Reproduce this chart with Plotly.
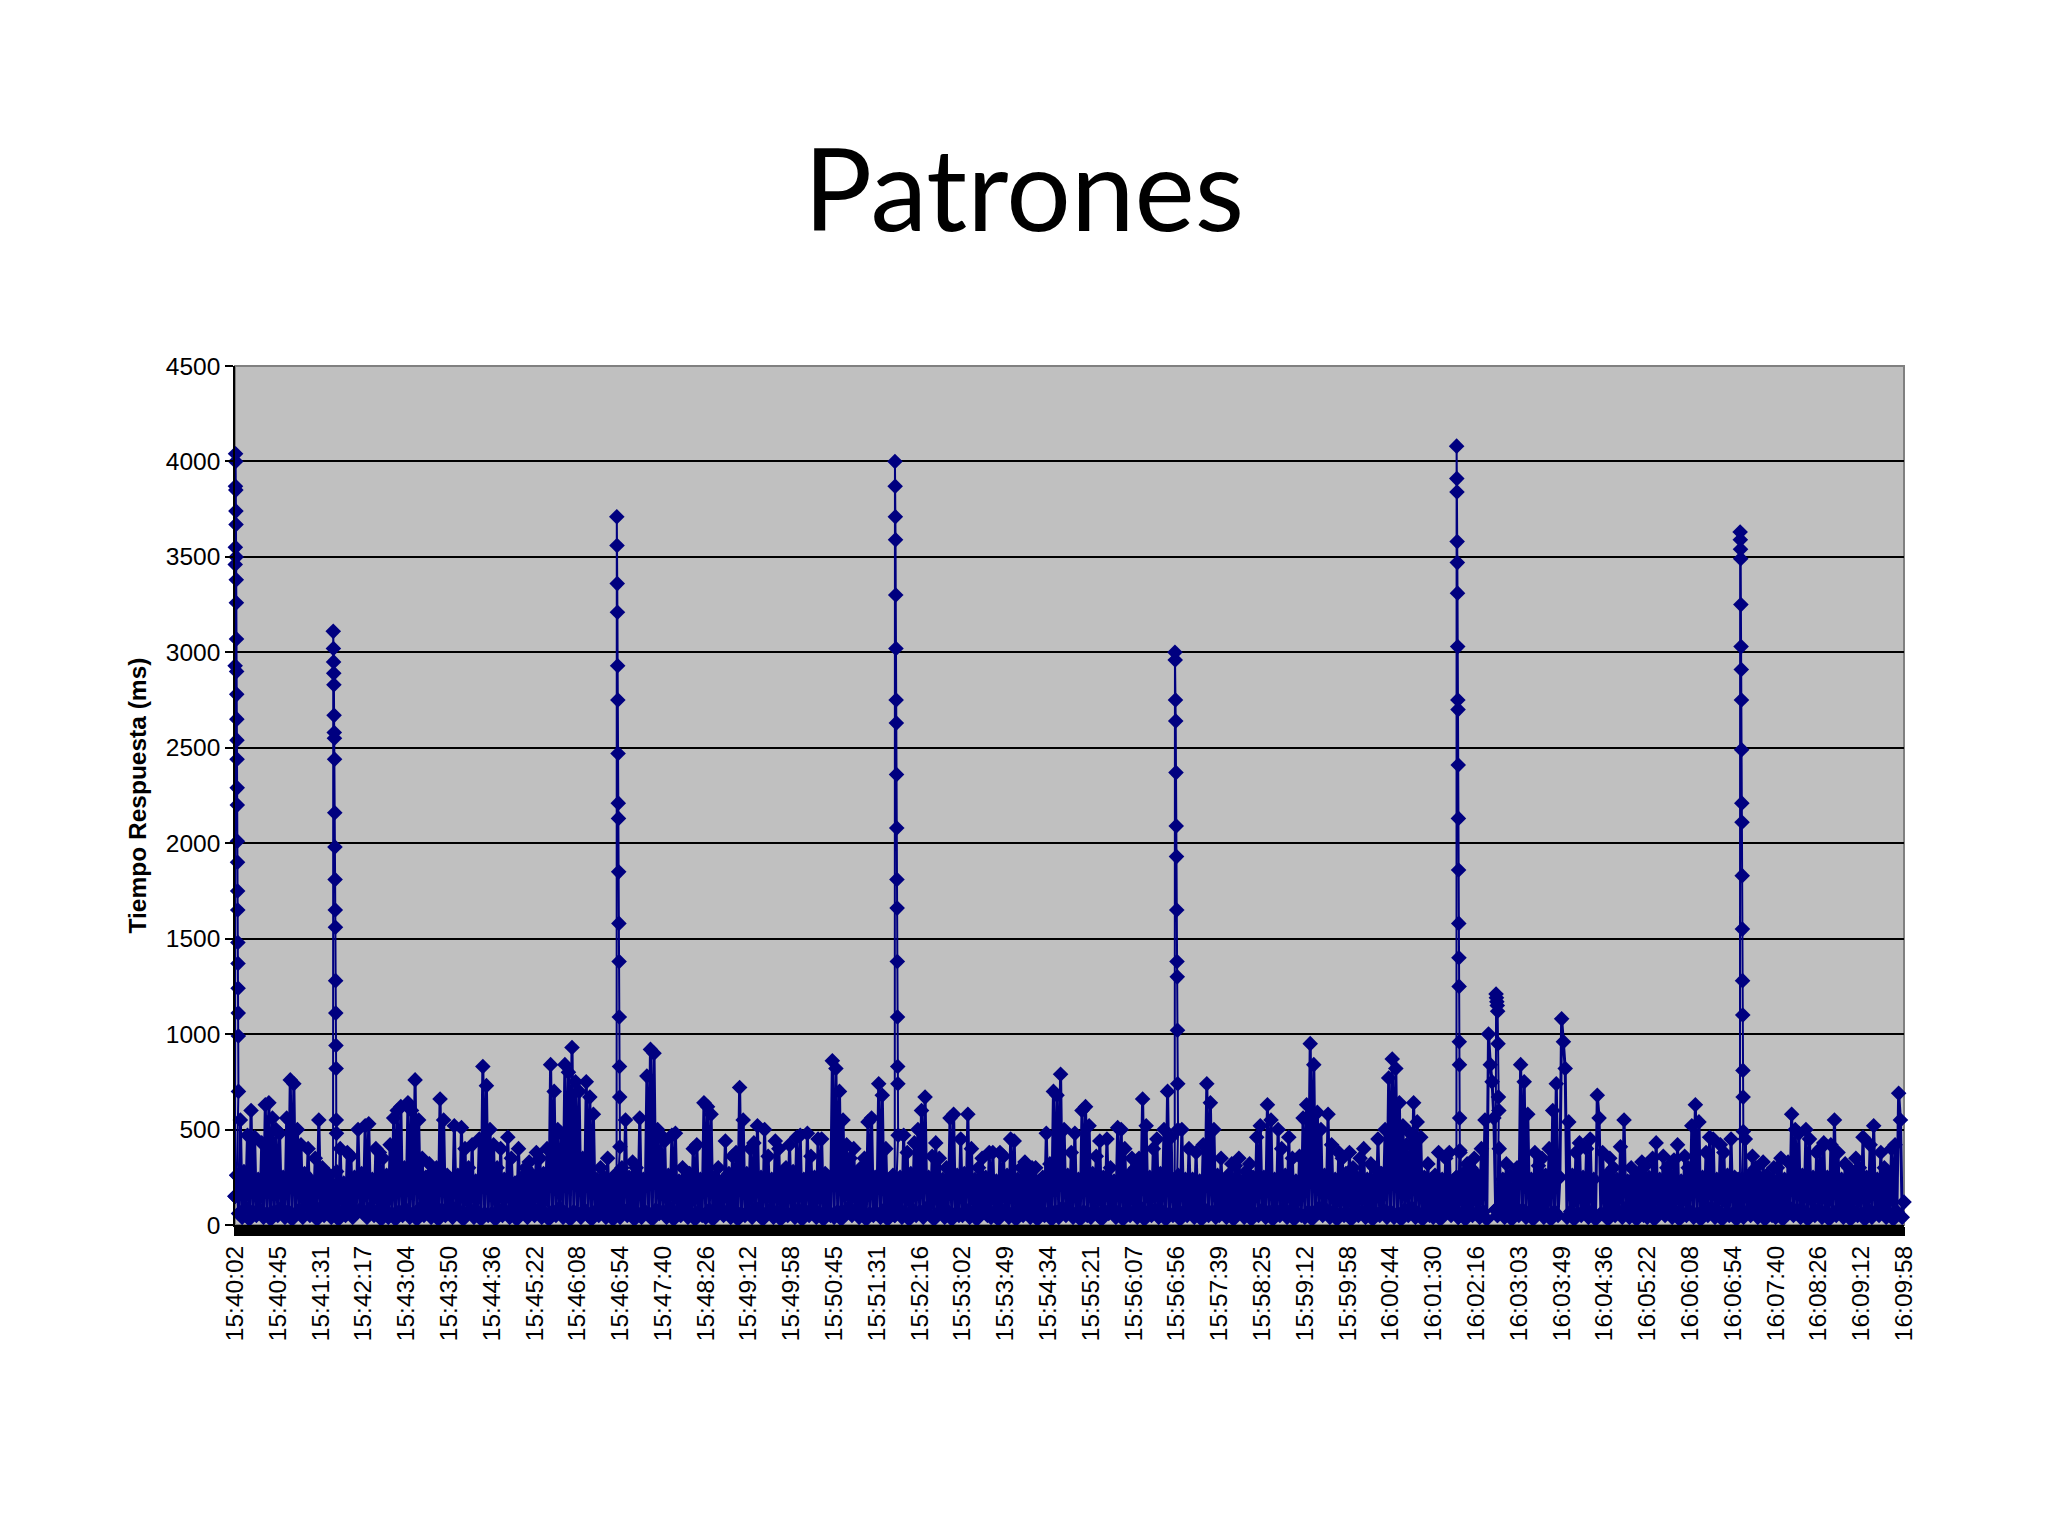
import plotly.graph_objects as go

# ---------------- data ----------------
tick_labels = [
    "15:40:02", "15:40:45", "15:41:31", "15:42:17", "15:43:04", "15:43:50", "15:44:36", "15:45:22",
    "15:46:08", "15:46:54", "15:47:40", "15:48:26", "15:49:12", "15:49:58", "15:50:45", "15:51:31",
    "15:52:16", "15:53:02", "15:53:49", "15:54:34", "15:55:21", "15:56:07", "15:56:56", "15:57:39",
    "15:58:25", "15:59:12", "15:59:58", "16:00:44", "16:01:30", "16:02:16", "16:03:03", "16:03:49",
    "16:04:36", "16:05:22", "16:06:08", "16:06:54", "16:07:40", "16:08:26", "16:09:12", "16:09:58",
]

# Response time (ms), background samples, one line per tick-label interval
response_ms = [
    150, 260, 60, 550, 40, 280, 90, 470, 30, 600, 70, 460, 50, 240, 80, 430, 40, 630, 60, 640, 30, 560, 70, 500,
    50, 480, 90, 250, 40, 560, 70, 760, 30, 740, 60, 500, 80, 420, 40, 270, 100, 400, 50, 230, 70, 350, 30, 550,
    90, 300, 50, 240, 80, 260, 40, 210, 60, 280, 30, 400, 70, 220, 50, 380, 90, 360, 40, 250, 60, 500, 80, 270,
    60, 520, 40, 530, 90, 240, 50, 400, 70, 380, 30, 350, 80, 260, 40, 420, 60, 560, 30, 600, 70, 620, 50, 300,
    80, 640, 40, 600, 60, 760, 30, 550, 90, 350, 50, 250, 70, 320, 40, 280, 60, 300, 30, 660, 80, 550, 50, 260,
    70, 240, 40, 520, 90, 260, 50, 510, 30, 400, 60, 300, 80, 420, 40, 230, 70, 450, 30, 830, 60, 730, 50, 500,
    60, 420, 30, 300, 80, 400, 50, 240, 70, 460, 40, 350, 90, 220, 30, 400, 60, 250, 80, 300, 40, 330, 70, 260,
    50, 380, 80, 350, 40, 270, 60, 400, 30, 840, 70, 700, 50, 500, 90, 480, 40, 840, 60, 800, 30, 930, 70, 750,
    60, 700, 40, 350, 80, 750, 50, 670, 30, 580, 70, 240, 50, 300, 90, 250, 40, 350, 60, 230, 30, 260, 70, 250,
    40, 300, 80, 550, 50, 250, 90, 330, 30, 300, 60, 560, 40, 240, 70, 780, 50, 920, 30, 900, 80, 500, 60, 470,
    70, 440, 40, 260, 90, 470, 30, 480, 60, 230, 50, 300, 80, 250, 40, 270, 60, 400, 30, 420, 70, 240, 50, 640,
    40, 620, 80, 580, 30, 250, 60, 300, 90, 230, 50, 440, 70, 270, 40, 360, 80, 380, 30, 720, 60, 550, 50, 270,
    70, 400, 40, 430, 90, 520, 50, 250, 30, 500, 60, 360, 80, 240, 40, 440, 70, 400, 30, 260, 60, 300, 50, 420,
    60, 280, 40, 460, 80, 470, 30, 240, 70, 480, 50, 360, 90, 250, 40, 450, 60, 450, 30, 270, 80, 250, 50, 860,
    40, 820, 70, 700, 30, 550, 60, 420, 90, 350, 50, 400, 80, 260, 40, 300, 70, 350, 30, 540, 60, 560, 50, 250,
    60, 740, 40, 680, 80, 400, 30, 240, 70, 260, 50, 230, 90, 250, 40, 470, 60, 380, 30, 270, 80, 430, 50, 500,
    70, 600, 40, 670, 90, 250, 50, 360, 30, 430, 60, 350, 80, 240, 40, 300, 70, 560, 30, 580, 60, 260, 50, 450,
    50, 270, 80, 580, 40, 400, 70, 240, 30, 300, 60, 350, 90, 250, 50, 380, 40, 380, 70, 230, 30, 380, 60, 360,
    80, 260, 40, 450, 60, 440, 30, 240, 90, 300, 50, 330, 70, 270, 40, 300, 60, 300, 30, 230, 80, 250, 50, 480,
    60, 320, 30, 700, 70, 680, 40, 790, 90, 500, 50, 260, 80, 380, 40, 480, 60, 240, 30, 600, 70, 620, 50, 520,
    40, 270, 80, 360, 50, 440, 30, 250, 70, 450, 60, 300, 90, 230, 40, 510, 60, 500, 30, 400, 80, 260, 50, 350,
    70, 300, 40, 350, 90, 660, 30, 520, 60, 250, 50, 400, 80, 450, 40, 270, 70, 500, 30, 700, 60, 460, 50, 240,
    60, 260, 30, 500, 70, 240, 50, 400, 90, 240, 40, 380, 60, 230, 30, 420, 80, 740, 50, 640, 70, 500, 40, 260,
    50, 350, 80, 220, 40, 260, 70, 320, 30, 310, 60, 350, 90, 230, 40, 280, 70, 320, 30, 250, 60, 460, 50, 520,
    80, 250, 40, 630, 70, 550, 30, 240, 60, 500, 50, 400, 90, 260, 40, 460, 70, 350, 30, 230, 60, 360, 50, 560,
    40, 630, 70, 950, 30, 840, 60, 590, 90, 500, 50, 260, 80, 580, 40, 420, 70, 240, 30, 380, 60, 350, 50, 270,
    60, 380, 30, 300, 80, 250, 50, 350, 70, 400, 40, 240, 90, 320, 30, 300, 60, 450, 50, 270, 80, 500, 40, 770,
    70, 870, 40, 820, 60, 640, 30, 520, 80, 420, 50, 480, 90, 640, 40, 540, 60, 460, 30, 250, 70, 320, 50, 240,
    40, 260, 80, 380, 30, 240, 60, 350, 90, 380, 50, 230, 70, 250, 40, 380, 60, 270, 30, 320, 80, 300, 50, 350,
    60, 260, 40, 400, 70, 550, 30, 1000, 840, 750, 560, 80, 50, 400, 90, 240, 40, 320, 70, 260, 30, 250, 60, 300,
    50, 840, 80, 750, 40, 580, 70, 240, 30, 380, 60, 310, 90, 350, 40, 260, 60, 400, 30, 600, 70, 740, 50, 250,
    1080, 960, 820, 40, 540, 70, 260, 30, 380, 60, 430, 50, 250, 80, 400, 40, 450, 70, 240, 30, 680, 560, 60, 380,
    60, 260, 30, 350, 80, 300, 50, 240, 70, 410, 40, 550, 90, 230, 40, 300, 60, 250, 30, 270, 80, 330, 50, 310,
    40, 250, 70, 350, 30, 430, 60, 240, 90, 360, 50, 300, 80, 260, 40, 340, 70, 420, 30, 230, 60, 360, 50, 300,
    70, 520, 40, 630, 60, 540, 30, 250, 80, 380, 50, 460, 90, 450, 40, 240, 70, 420, 30, 380, 60, 260, 50, 450,
    60, 250, 30, 240, 80, 230, 40, 450, 70, 260, 50, 360, 90, 300, 40, 250, 60, 330, 30, 260, 80, 240, 50, 300,
    40, 300, 70, 350, 30, 240, 60, 330, 90, 580, 50, 500, 80, 480, 40, 260, 70, 500, 30, 450, 60, 250, 50, 380,
    80, 400, 40, 430, 70, 250, 30, 420, 60, 550, 50, 380, 90, 240, 40, 320, 60, 300, 30, 260, 70, 350, 50, 300,
    60, 460, 30, 250, 80, 420, 40, 520, 70, 240, 50, 380, 90, 300, 40, 260, 60, 400, 30, 420, 70, 690, 550, 40,
    120,
]

# Bursts of very slow responses (consecutive samples), and the background sample they follow
spike_1540 = [2930, 3460, 3550, 3870, 4040, 4000, 3850, 3740, 3670, 3500, 3380, 3260, 3070, 2900, 2780,
              2650, 2540, 2440, 2290, 2200, 2010, 1900, 1750, 1650, 1480, 1370, 1240, 1110, 990, 700]
spike_1541 = [3110, 3020, 2950, 2890, 2830, 2670, 2580, 2550, 2440, 2160, 1980, 1810, 1650, 1560, 1280,
              1110, 940, 820, 550, 480]
spike_1546 = [3710, 3560, 3360, 3210, 2930, 2750, 2470, 2210, 2130, 1850, 1580, 1380, 1090, 830, 670, 410]
spike_1551 = [4000, 3870, 3710, 3590, 3300, 3020, 2750, 2630, 2360, 2080, 1810, 1660, 1380, 1090, 830, 740, 470]
spike_1556 = [3000, 2960, 2750, 2640, 2370, 2090, 1930, 1650, 1380, 1300, 1020, 740, 500]
spike_1601 = [4080, 3910, 3840, 3580, 3470, 3310, 3030, 2750, 2700, 2410, 2130, 1860, 1580, 1400, 1250,
              960, 840, 560, 390]
spike_1602 = [1210, 1190, 1170, 1150, 1120, 950, 670, 600]
spike_1606 = [3630, 3590, 3540, 3490, 3250, 3030, 2910, 2750, 2490, 2210, 2110, 1830, 1550, 1280, 1100,
              810, 670, 490]
spike_after_sample = [0, 55, 214, 370, 527, 685, 707, 844]
spike_bursts = [spike_1540, spike_1541, spike_1546, spike_1551, spike_1556, spike_1601, spike_1602, spike_1606]

# ---------------- build series ----------------
samples_per_tick = (len(response_ms) - 1) / (len(tick_labels) - 1)
base_x = [i / samples_per_tick for i in range(len(response_ms))]

# bursts: drawn as one series (with the neighbouring background samples), gaps between bursts
burst_x, burst_y = [], []
for i, b in zip(spike_after_sample, spike_bursts):
    n = len(b)
    burst_x.append(base_x[i])
    burst_y.append(response_ms[i])
    for j, bv in enumerate(b):
        burst_x.append((i + 2.0 * (j + 1) / (n + 1)) / samples_per_tick)
        burst_y.append(bv)
    if i + 1 < len(response_ms):
        burst_x.append(base_x[i + 1])
        burst_y.append(response_ms[i + 1])
    burst_x.append(None)
    burst_y.append(None)

NAVY = "#000080"
fig = go.Figure()
fig.add_trace(go.Scatter(
    x=base_x, y=response_ms, mode="lines+markers",
    line=dict(color=NAVY, width=3),
    marker=dict(symbol="diamond", size=12, color=NAVY, line=dict(width=0)),
    cliponaxis=False, showlegend=False, hoverinfo="y",
))
fig.add_trace(go.Scatter(
    x=burst_x, y=burst_y, mode="lines+markers", connectgaps=False,
    line=dict(color=NAVY, width=2),
    marker=dict(symbol="diamond", size=12, color=NAVY, line=dict(width=0)),
    cliponaxis=False, showlegend=False, hoverinfo="y",
))

AX_FONT = dict(family="Liberation Sans, Arial, sans-serif", size=24.5, color="black")

fig.update_layout(
    width=2032, height=1520,
    margin=dict(l=227, r=136, t=358, b=303),
    paper_bgcolor="white", plot_bgcolor="#C0C0C0",
    title=dict(text="Patrones", x=0.5, xanchor="center", y=0.8796, yanchor="middle",
               yref="container", font=dict(family="Lato, Open Sans, sans-serif", size=114, color="black")),
    xaxis=dict(
        range=[0, len(tick_labels) - 1], tickmode="array",
        tickvals=list(range(len(tick_labels))), ticktext=tick_labels,
        tickangle=-90, tickfont=AX_FONT, ticks="outside", ticklen=9, tickcolor="black", tickwidth=2,
        showgrid=False, zeroline=False, showline=True, linecolor="black", linewidth=2,
        minor=dict(tickmode="linear", tick0=0, dtick=0.02, ticks="outside", ticklen=9,
                   tickcolor="black", tickwidth=2),
    ),
    yaxis=dict(
        range=[0, 4500], tickmode="linear", tick0=0, dtick=500, tickfont=AX_FONT,
        ticks="outside", ticklen=8, tickcolor="black", tickwidth=1.5,
        showgrid=True, gridcolor="black", gridwidth=1.5, zeroline=False,
        showline=True, linecolor="black", linewidth=1.5,
    ),
    shapes=[dict(type="rect", xref="paper", yref="paper", x0=0, x1=1, y0=0, y1=1,
                 line=dict(color="#808080", width=2), layer="below")],
    annotations=[dict(text="<b>Tiempo Respuesta (ms)</b>", xref="paper", yref="paper", x=0, y=0.5,
                      xanchor="center", yanchor="middle", xshift=-98, textangle=-90, showarrow=False,
                      font=dict(family="Liberation Sans, Arial, sans-serif", size=24.5, color="black"))],
)

fig.write_html("out.html")
